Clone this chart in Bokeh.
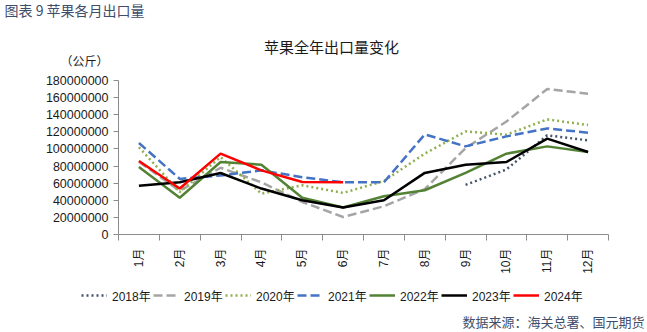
import math
from bokeh.plotting import figure
from bokeh.layouts import column
from bokeh.models import (FixedTicker, NumeralTickFormatter, Label, Legend, LegendItem,
                          ColumnDataSource, Range1d)
from bokeh.embed import file_html
from bokeh.resources import INLINE

nan = float("nan")
months = ["1月", "2月", "3月", "4月", "5月", "6月", "7月", "8月", "9月", "10月", "11月", "12月"]
y2018 = [nan, nan, nan, nan, nan, nan, nan, nan, 58000000, 76000000, 116000000, 110000000]
y2019 = [85000000, 51000000, 78000000, 61000000, 38000000, 20500000, 33000000, 53000000, 101000000, 132000000, 170000000, 164500000]
y2020 = [102000000, 49700000, 90500000, 47800000, 57500000, 48600000, 62500000, 94500000, 120500000, 116700000, 134500000, 128000000]
y2021 = [107000000, 65000000, 69000000, 75000000, 67000000, 61000000, 61000000, 117000000, 103000000, 114700000, 124000000, 119000000]
y2022 = [79000000, 43000000, 84700000, 81600000, 43000000, 31500000, 44700000, 51700000, 72000000, 94500000, 103000000, 96400000]
y2023 = [57000000, 61000000, 71900000, 53700000, 40000000, 31500000, 40000000, 72000000, 81600000, 84700000, 112000000, 96400000]
y2024 = [86000000, 53700000, 94500000, 75000000, 61400000, 61000000]
series_names = ["2018年", "2019年", "2020年", "2021年", "2022年", "2023年", "2024年"]
series_vals = [y2018, y2019, y2020, y2021, y2022, y2023, y2024]
y_ticks = [0, 20000000, 40000000, 60000000, 80000000, 100000000, 120000000, 140000000, 160000000, 180000000]

styles = [
    dict(color="#44546A", dash="2 3", width=2.5),
    dict(color="#A5A5A5", dash="9 4", width=2.5),
    dict(color="#8FB04E", dash="2 3", width=2.5),
    dict(color="#4472C4", dash="9 4", width=2.5),
    dict(color="#548235", dash="solid", width=2.5),
    dict(color="#000000", dash="solid", width=2.5),
    dict(color="#FF0000", dash="solid", width=2.5),
]

W = 647
HEAD_H, MAIN_H, FOOT_H = 68, 212, 52
FL, FR = 118, 608
FT_LOCAL = 12          # frame top inside main figure (canvas y = 80)
FB_LOCAL = 166         # frame bottom inside main figure (canvas y = 234)

tick_font = "'Liberation Sans', 'Noto Sans CJK SC'"
cjk = "'Noto Sans CJK SC'"
axis_color = "#8C8C8C"
text_dark = "#1a1a1a"
note_color = "#3E4E6B"


def bare_fig(h):
    f = figure(width=W, height=h, output_backend="svg", toolbar_location=None,
               x_range=Range1d(0, W), y_range=Range1d(0, h),
               x_axis_type=None, y_axis_type=None, min_border=0, frame_align=False)
    f.outline_line_color = None
    f.xgrid.visible = False
    f.ygrid.visible = False
    return f


def add_label(f, h, text, cx, cy, size, color, font, align="left", style="normal"):
    f.add_layout(Label(x=cx, y=h - cy, x_units="screen", y_units="screen",
                       text=text, text_font_size=size, text_color=color,
                       text_font=font, text_align=align, text_baseline="middle",
                       text_font_style=style))


# ---- header ----
head = bare_fig(HEAD_H)
add_label(head, HEAD_H, "图表 9 苹果各月出口量", 4, 9, "14px", note_color, cjk)
add_label(head, HEAD_H, "苹果全年出口量变化", 331, 46, "15px", text_dark, cjk, align="center")
add_label(head, HEAD_H, "（公斤）", 84, 60, "12px", text_dark, cjk, align="center")

# ---- main chart ----
main = figure(width=W, height=MAIN_H, output_backend="svg", toolbar_location=None,
              x_range=Range1d(0.5, 12.5), y_range=Range1d(0, 180000000),
              min_border_left=FL, min_border_right=W - FR, min_border_top=FT_LOCAL,
              min_border_bottom=MAIN_H - FB_LOCAL, frame_align=False)
main.outline_line_color = None
main.xgrid.visible = False
main.ygrid.visible = False

xs = list(range(1, 13))
for name, vals, st in zip(series_names, series_vals, styles):
    src = ColumnDataSource(dict(x=xs[:len(vals)], y=vals))
    main.line("x", "y", source=src, line_color=st["color"], line_width=st["width"],
              line_dash=st["dash"])

yax = main.yaxis[0]
yax.ticker = FixedTicker(ticks=y_ticks, minor_ticks=[])
yax.formatter = NumeralTickFormatter(format="0")
yax.axis_line_color = axis_color
yax.major_tick_line_color = axis_color
yax.major_tick_out = 5
yax.major_tick_in = 0
yax.minor_tick_line_color = None
yax.major_label_text_font = tick_font
yax.major_label_text_font_size = "12.5px"
yax.major_label_text_color = text_dark
yax.major_label_standoff = 5

xax = main.xaxis[0]
xax.ticker = FixedTicker(ticks=xs, minor_ticks=[i + 0.5 for i in range(0, 13)])
xax.major_label_overrides = {i + 1: m for i, m in enumerate(months)}
xax.major_label_orientation = math.pi / 2
xax.axis_line_color = axis_color
xax.major_tick_line_color = None
xax.major_tick_out = 0
xax.major_tick_in = 0
xax.minor_tick_line_color = axis_color
xax.minor_tick_out = 6
xax.minor_tick_in = 0
xax.major_label_text_font = tick_font
xax.major_label_text_font_size = "12px"
xax.major_label_text_color = text_dark
xax.major_label_standoff = 8

# ---- footer: legend + source ----
foot = bare_fig(FOOT_H)
items = []
for name, st in zip(series_names, styles):
    r = foot.line(x=[nan, nan], y=[nan, nan], line_color=st["color"], line_width=st["width"],
                  line_dash=st["dash"])
    items.append(LegendItem(label=name, renderers=[r]))
legend = Legend(items=items, orientation="horizontal", location=(81, FOOT_H - 25),
                glyph_width=26, glyph_height=20, label_standoff=5, spacing=0,
                label_width=41, padding=0, margin=0, border_line_color=None,
                background_fill_alpha=0, label_text_font=tick_font,
                label_text_font_size="12px", label_text_color=text_dark, label_height=20)
foot.add_layout(legend, "center")
add_label(foot, FOOT_H, "数据来源：海关总署、国元期货", 644, 41, "13px", note_color, cjk, align="right")

p = column(head, main, foot, spacing=0)

open("out.html", "w").write(file_html(p, INLINE))
